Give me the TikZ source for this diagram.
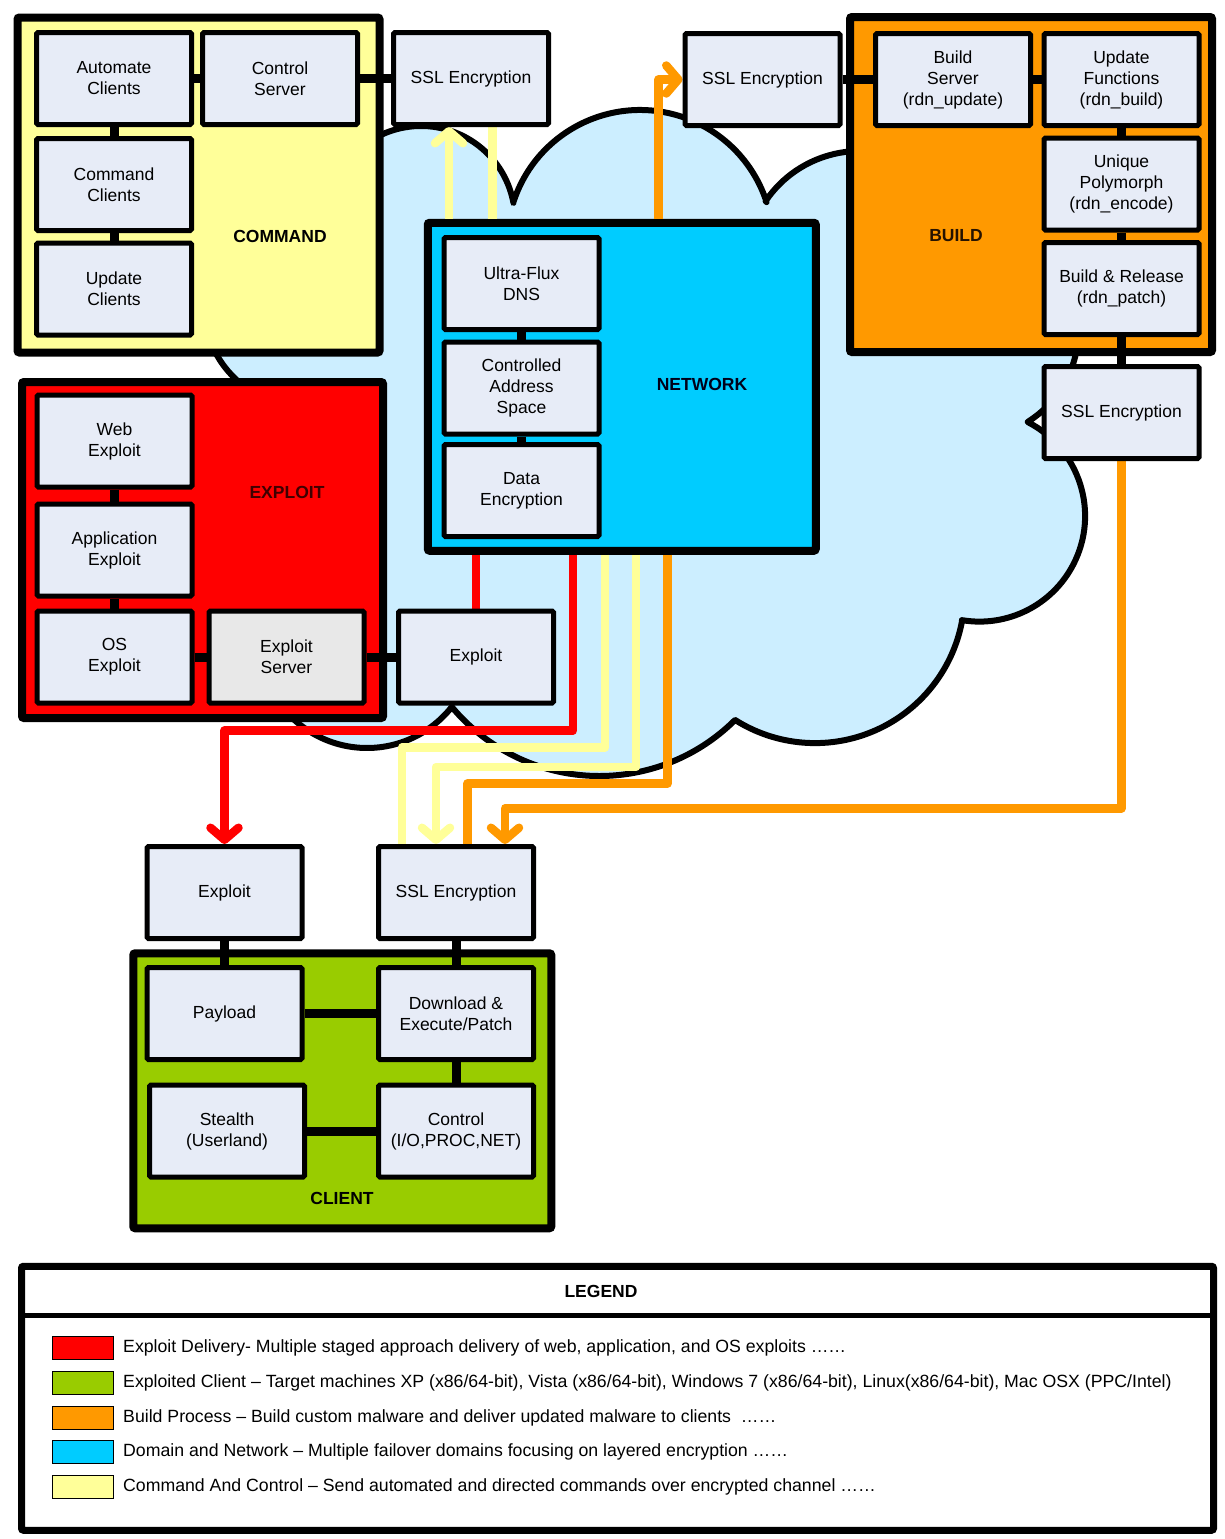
\documentclass[tikz,border=0pt]{standalone}
\usepackage{fontspec}
\setmainfont{Liberation Sans}
\usetikzlibrary{arrows.meta}
\pgfdeclarelayer{bgl}
\pgfdeclarelayer{grpl}
\pgfdeclarelayer{linel}
\pgfsetlayers{bgl,grpl,linel,main}
\definecolor{cmdc}{HTML}{FFFF99}
\definecolor{buildc}{HTML}{FF9900}
\definecolor{netc}{HTML}{00CCFF}
\definecolor{expc}{HTML}{FF0000}
\definecolor{clic}{HTML}{99CC00}
\definecolor{cloudc}{HTML}{CCEEFF}
\definecolor{boxc}{HTML}{E7ECF7}
\definecolor{srvc}{HTML}{E8E8E8}
\definecolor{ylwl}{HTML}{FFFF99}
\newcommand\bxfont{\fontsize{17.5pt}{21pt}\selectfont}
\newcommand\lgfont{\fontsize{17.7pt}{20pt}\selectfont}
\begin{document}
\begin{tikzpicture}[x=1pt,y=-1pt,
  box/.style={draw, line width=5pt, fill=boxc, minimum width=155pt, minimum height=92pt, inner sep=0pt, align=center, rounded corners=1.5pt, font=\bxfont},
  grp/.style={draw, line width=8pt, inner sep=0pt, rounded corners=2pt},
  glabel/.style={font=\bxfont\bfseries, inner sep=0pt},
  conn/.style={line width=9pt},
  cline/.style={line width=8.5pt, line join=round},
  arr/.style={-{Straight Barb[length=12pt,width=28pt,round]}},
  sw/.style={draw, line width=1.3pt, minimum width=61pt, minimum height=23pt, inner sep=0pt},
  ltext/.style={anchor=west, font=\lgfont, inner sep=0pt}
]
\useasboundingbox (0,0) rectangle (1225,1539);

\begin{pgfonlayer}{bgl}
\fill[white] (0,0) rectangle (1225,1539);
\path[draw, line width=6pt, fill=cloudc, line join=round]
  ({304+100*cos(100)},{306+100*sin(100)}) arc[start angle=100, end angle=250, radius=100]
  -- ({421+94*cos(-190)},{220+94*sin(-190)}) arc[start angle=-190, end angle=-10.5, radius=94]
  -- ({640+133*cos(-162.5)},{243+133*sin(-162.5)}) arc[start angle=-162.5, end angle=-17.9, radius=133]
  -- ({860+114*cos(-145.9)},{265+114*sin(-145.9)}) arc[start angle=-145.9, end angle=-60, radius=114]
  -- ({970+108.5*cos(-90)},{330+108.5*sin(-90)}) arc[start angle=-90, end angle=57.8, radius=108.5]
  -- ({979.5+105.6*cos(-62.7)},{516+105.6*sin(-62.7)}) arc[start angle=-62.7, end angle=99.6, radius=105.6]
  -- ({815+149.6*cos(10.2)},{593.5+149.6*sin(10.2)}) arc[start angle=10.2, end angle=122.3, radius=149.6]
  -- ({599.4+192.2*cos(45.1)},{583.8+192.2*sin(45.1)}) arc[start angle=45.1, end angle=140.1, radius=192.2]
  -- ({367+108*cos(38.25)},{640+108*sin(38.25)}) arc[start angle=38.25, end angle=150, radius=108]
  -- cycle;
\end{pgfonlayer}

\begin{pgfonlayer}{grpl}
\node[grp, fill=cmdc, minimum width=362pt, minimum height=335pt] (cmd) at (198.5,185) {};
\node[grp, fill=buildc, minimum width=362pt, minimum height=335pt] (bld) at (1031,184.5) {};
\node[grp, fill=netc, minimum width=388pt, minimum height=328pt] (net) at (621.75,386.75) {};
\node[grp, fill=expc, minimum width=361pt, minimum height=336pt] (exg) at (202.5,550) {};
\node[grp, fill=clic, minimum width=418pt, minimum height=275pt] (cli) at (342.25,1090.75) {};
\node[grp, line width=7pt, fill=white, minimum width=1192pt, minimum height=264pt] (leg) at (617.5,1398.25) {};
\end{pgfonlayer}

% COMMAND
\node[box] (ac) at (114,78.5) {Automate\\Clients};
\node[box] (cs) at (280,78.5) {Control\\Server};
\node[box] (cc) at (114,184.5) {Command\\Clients};
\node[box] (uc) at (114,289) {Update\\Clients};
\node[box] (ssltl) at (471,78.5) {SSL Encryption};
% BUILD
\node[box] (ssltr) at (762.5,79.5) {SSL Encryption};
\node[box] (bs) at (953,79.5) {Build\\Server\\(rdn\_update)};
\node[box] (uf) at (1121.5,79.5) {Update\\Functions\\(rdn\_build)};
\node[box] (up) at (1121.5,184) {Unique\\Polymorph\\(rdn\_encode)};
\node[box] (br) at (1121.5,288.5) {Build \& Release\\(rdn\_patch)};
\node[box] (sslr) at (1121.5,412.5) {SSL Encryption};
% NETWORK
\node[box] (ufd) at (521.5,283.5) {Ultra-Flux\\DNS};
\node[box] (cas) at (521.5,388) {Controlled\\Address\\Space};
\node[box] (de) at (521.5,490.5) {Data\\Encryption};
% EXPLOIT
\node[box] (we) at (114.5,441) {Web\\Exploit};
\node[box] (ae) at (114.5,550) {Application\\Exploit};
\node[box] (oe) at (114.5,657) {OS\\Exploit};
\node[box, fill=srvc] (es) at (286.5,657) {Exploit\\Server};
\node[box] (exm) at (476,657) {Exploit};
% CLIENT
\node[box] (exb) at (224.5,892.5) {Exploit};
\node[box] (sslb) at (456,892.5) {SSL Encryption};
\node[box] (pay) at (224.5,1013.5) {Payload};
\node[box] (dl) at (456,1013.5) {Download \&\\Execute/Patch};
\node[box] (st) at (227,1131) {Stealth\\(Userland)};
\node[box] (ctl) at (456,1131) {Control\\(I/O,PROC,NET)};

% group labels
\node[glabel] (lcmd) at (280,236) {COMMAND};
\node[glabel, text=black!75!red] (lexp) at (287,492) {EXPLOIT};
\node[glabel, text=black!85!orange] (lbld) at (956,236) {BUILD};
\node[glabel, text=black!90!blue] (lnet) at (702,384) {NETWORK};
\node[glabel] (lcli) at (342,1198) {CLIENT};
\node[glabel] (lleg) at (601,1291) {LEGEND};

% legend
\coordinate (lsep) at (0,1315);
\node[sw, fill=expc] (sw1) at (83,1348) {};
\node[sw, fill=clic] (sw2) at (83,1383) {};
\node[sw, fill=buildc] (sw3) at (83,1418) {};
\node[sw, fill=netc] (sw4) at (83,1452) {};
\node[sw, fill=cmdc] (sw5) at (83,1487) {};
\node[ltext] (lt1) at (123,1348) {Exploit Delivery- Multiple staged approach delivery of web, application, and OS exploits ……};
\node[ltext] (lt2) at (123,1383) {Exploited Client – Target machines XP (x86/64-bit), Vista (x86/64-bit), Windows 7 (x86/64-bit), Linux(x86/64-bit), Mac OSX (PPC/Intel)};
\node[ltext] (lt3) at (123,1418) {Build Process – Build custom malware and deliver updated malware to clients\ \ ……};
\node[ltext] (lt4) at (123,1452) {Domain and Network – Multiple failover domains focusing on layered encryption ……};
\node[ltext] (lt5) at (123,1487) {Command And Control – Send automated and directed commands over encrypted channel ……};

\begin{pgfonlayer}{linel}
\draw[line width=5pt] (leg.west |- lsep) -- (leg.east |- lsep);
% black connectors
\draw[conn] (ac) -- (cs);
\draw[conn] (cs) -- (ssltl);
\draw[conn] (ac) -- (cc);
\draw[conn] (cc) -- (uc);
\draw[conn] (ssltr) -- (bs);
\draw[conn] (bs) -- (uf);
\draw[conn] (uf) -- (up);
\draw[conn] (up) -- (br);
\draw[conn] (br) -- (sslr);
\draw[conn] (ufd) -- (cas);
\draw[conn] (cas) -- (de);
\draw[conn] (we) -- (ae);
\draw[conn] (ae) -- (oe);
\draw[conn] (oe) -- (es);
\draw[conn] (es) -- (exm);
\draw[conn] (exb) -- (pay);
\draw[conn] (sslb) -- (dl);
\draw[conn] (pay) -- (dl);
\draw[conn] (dl) -- (ctl);
\draw[conn] (st) -- (ctl);
% lanes
\coordinate (xY1) at (449,0);
\coordinate (xY2) at (492.5,0);
\coordinate (xO1) at (658.5,0);
\coordinate (xR2) at (573,0);
\coordinate (xY3) at (605,0);
\coordinate (xY4) at (636,0);
\coordinate (xO2) at (667.5,0);
\coordinate (dY3) at (402,0);
\coordinate (dY4) at (436,0);
\coordinate (dO2) at (467.5,0);
\coordinate (dO3) at (505,0);
\coordinate (hR2) at (0,730.5);
\coordinate (hY3) at (0,747.5);
\coordinate (hY4) at (0,767);
\coordinate (hO2) at (0,783.5);
\coordinate (hO3) at (0,808.3);
% coloured flows
\draw[cline, ylwl, arr] (net.north -| xY1) -- (ssltl.south -| xY1);
\draw[cline, ylwl] (net.north -| xY2) -- (ssltl.south -| xY2);
\draw[cline, buildc, arr] (net.north -| xO1) -- (xO1 |- ssltr.west) -- (ssltr.west);
\draw[cline, expc] (net.south -| exm.north) -- (exm.north);
\draw[cline, expc, arr] (net.south -| xR2) -- (xR2 |- hR2) -- (exb.north |- hR2) -- (exb.north);
\draw[cline, ylwl] (net.south -| xY3) -- (xY3 |- hY3) -- (dY3 |- hY3) -- (dY3 |- sslb.north);
\draw[cline, ylwl, arr] (net.south -| xY4) -- (xY4 |- hY4) -- (dY4 |- hY4) -- (dY4 |- sslb.north);
\draw[cline, buildc] (net.south -| xO2) -- (xO2 |- hO2) -- (dO2 |- hO2) -- (dO2 |- sslb.north);
\draw[cline, buildc, arr] (sslr.south) -- (sslr.south |- hO3) -- (dO3 |- hO3) -- (dO3 |- sslb.north);
\end{pgfonlayer}
\end{tikzpicture}
\end{document}
